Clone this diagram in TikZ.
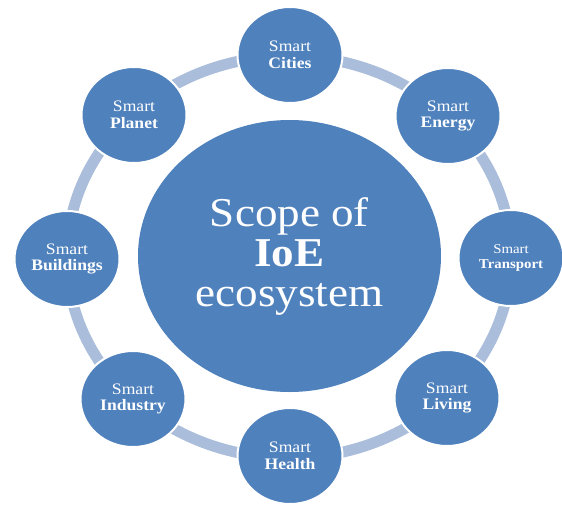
\documentclass[tikz,border=0pt]{standalone}
\usepackage{fontspec}
\setmainfont{Liberation Serif}[FakeStretch=1.1]
\usetikzlibrary{shapes.geometric}
\definecolor{ioeblue}{RGB}{79,129,189}
\definecolor{ringblue}{RGB}{170,189,219}
\tikzset{
  hub/.style={ellipse,fill=ioeblue,text=white,inner sep=0pt,align=center,
    minimum width=303,minimum height=272,font=\fontsize{41}{40}\selectfont},
  areanode/.style={ellipse,fill=ioeblue,draw=white,line width=2pt,text=white,
    inner sep=0pt,align=center,minimum width=105,minimum height=96,
    font=\fontsize{16}{16.5}\selectfont},
  ring/.style={draw=ringblue,line width=11pt}
}

\begin{document}
\begin{tikzpicture}[x=1pt,y=-1pt]
            \fill[white] (0,0) rectangle (562,504);
            \useasboundingbox (0,0) rectangle (562,504);
            % ring behind everything
            \coordinate (o) at (289,257);
            \draw[ring] (o) ellipse [x radius=222,y radius=201];
            \node[hub] (scope) at (289.5,256) {Scope of\\\textbf{IoE}\\ecosystem};
            \foreach \n/\x/\y/\w in {cities/290/55/Cities,energy/448/116/Energy,
                living/447/398/Living,health/290/456/Health,industry/133/399/Industry,
                buildings/67/259/Buildings,planet/134/115/Planet}
                \node[areanode] (\n) at (\x,\y) {Smart\\\textbf{\w}};
            \node[areanode,font=\fontsize{13.5}{15}\selectfont] (transport) at (511,258) {Smart\\\textbf{Transport}};
        \end{tikzpicture}
\end{document}
